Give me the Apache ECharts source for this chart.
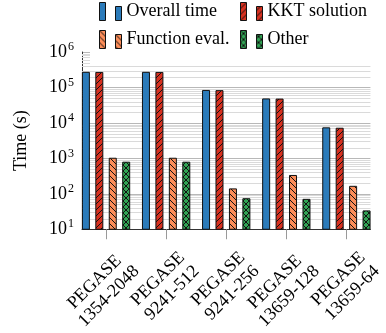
<!DOCTYPE html>
<html>
<head>
<meta charset="utf-8">
<script src="https://cdn.jsdelivr.net/npm/echarts@6/dist/echarts.min.js"></script>
<style>html,body{margin:0;padding:0;background:#fff}#c{width:386px;height:333px}</style>
</head>
<body>
<div id="c"></div>
<script>
// ---- data ----
const categories = ['PEGASE\n1354-2048', 'PEGASE\n9241-512', 'PEGASE\n9241-256', 'PEGASE\n13659-128', 'PEGASE\n13659-64'];
const overallTime = [2.76e5, 2.76e5, 8.5e4, 4.9e4, 7.5e3];
const kktSolution = [2.74e5, 2.74e5, 8.4e4, 4.85e4, 7.3e3];
const functionEval = [1.04e3, 1.04e3, 142, 340, 168];
const otherTime = [805, 805, 75, 72, 34];
const seriesNames = ['Overall time', 'KKT solution', 'Function eval.', 'Other'];
const yMin = 10, yMax = 1e6;
const minorDecades = [10, 100, 1000, 10000, 100000];
const minorFactors = [2, 3, 4, 5, 6, 7, 8, 9];

// ---- hatch patterns ----
function makePattern(bg, kind) {
  const s = 6;
  const c = document.createElement('canvas');
  c.width = s; c.height = s;
  const g = c.getContext('2d');
  g.fillStyle = bg; g.fillRect(0, 0, s, s);
  g.strokeStyle = '#111'; g.lineWidth = 1;
  const line = (x1, y1, x2, y2) => { g.beginPath(); g.moveTo(x1, y1); g.lineTo(x2, y2); g.stroke(); };
  if (kind === '/' || kind === 'x') {
    for (const o of [-s, 0, s]) line(o, s, o + s, 0);
  }
  if (kind === '\\' || kind === 'x') {
    for (const o of [-s, 0, s]) line(o, 0, o + s, s);
  }
  return { image: c, repeat: 'repeat' };
}
const colBlue = '#2b7bba';
const colRed = makePattern('#d7301f', '/');
const colOrange = makePattern('#fc8d59', '\\');
const colGreen = makePattern('#31a354', 'x');

const FONT = 'Liberation Serif';
const X_MIN = -0.4, X_MAX = 4.4;
const tickVals = categories.map((c, i) => i);
const chart = echarts.init(document.getElementById('c'), null, { renderer: 'canvas' });

function barSeries(name, values, color) {
  return {
    name, type: 'bar', z: 2, xAxisIndex: 0,
    data: values.map((v, i) => [i, v]),
    barWidth: 8, barGap: '68%',
    itemStyle: { color, borderColor: '#111', borderWidth: 1 }
  };
}

const minorVals = [];
minorDecades.forEach(d => minorFactors.forEach(f => minorVals.push(d * f)));

const legendCommon = {
  orient: 'vertical', top: 0, itemGap: 9, itemWidth: 22, itemHeight: 18,
  icon: 'path://M0,0h6v18h-6z M16,4h6v14h-6z',
  selectedMode: false, backgroundColor: '#fff',
  textStyle: { fontFamily: FONT, fontSize: 18, color: '#000' },
  itemStyle: { borderColor: '#111', borderWidth: 1 }
};

function labelAxis(values, showLine) {
  return {
    type: 'value', min: X_MIN, max: X_MAX, position: 'bottom', offset: 0,
    splitLine: { show: false },
    axisLine: { show: showLine, onZero: false, lineStyle: { color: '#333', width: 1 } },
    axisTick: { show: showLine, customValues: tickVals, length: 10, lineStyle: { color: '#999' } },
    axisLabel: {
      customValues: values,
      showMinLabel: true, showMaxLabel: true, hideOverlap: false,
      rotate: 45, margin: 9, verticalAlign: 'top', padding: [13, 0, 0, 0],
      fontFamily: FONT, fontSize: 18, color: '#000', lineHeight: 20,
      formatter: v => categories[Math.round(v)].split('\n').map(s => '{a|' + s + '}').join('\n'),
      rich: { a: { align: 'center', fontFamily: FONT, fontSize: 18, lineHeight: 20, color: '#000' } }
    }
  };
}

chart.setOption({
  animation: false,
  backgroundColor: '#fff',
  grid: { left: 82, right: 0, top: 52, bottom: 100, containLabel: false },
  legend: [
    Object.assign({}, legendCommon, { left: 90, padding: [2, 30, 17, 9], data: ['Overall time', 'Function eval.'] }),
    Object.assign({}, legendCommon, { left: 231, padding: [2, 40, 17, 9], data: ['KKT solution', 'Other'] })
  ],
  // labels split over two coincident axes so neighbouring rotated labels are not culled
  xAxis: [
    labelAxis(tickVals.filter(i => i % 2 === 0), true),
    labelAxis(tickVals.filter(i => i % 2 === 1), false)
  ],
  yAxis: {
    type: 'log', logBase: 10, min: yMin, max: yMax,
    name: 'Time (s)', nameLocation: 'middle', nameGap: 52,
    nameTextStyle: { fontFamily: FONT, fontSize: 18, color: '#000' },
    axisLine: { show: true, onZero: false, lineStyle: { color: '#333', width: 1 } },
    axisTick: { show: false },
    splitLine: { show: true, lineStyle: { color: '#b8b8b8', width: 1 } },
    axisLabel: {
      margin: 8, color: '#000',
      formatter: v => '{b|10}{s|' + Math.round(Math.log10(v)) + '}',
      rich: {
        b: { fontFamily: FONT, fontSize: 18, lineHeight: 22, color: '#000' },
        s: { fontFamily: FONT, fontSize: 12, verticalAlign: 'top', lineHeight: 14, padding: [0, 0, 0, 1], color: '#000' }
      }
    }
  },
  series: [
    {
      type: 'custom', name: 'minorGrid', silent: true, z: 1, clip: true, xAxisIndex: 0,
      data: minorVals.map(v => [X_MIN, v]), encode: { x: 0, y: 1 },
      renderItem: (params, api) => {
        const y = Math.round(api.coord([X_MIN, api.value(1)])[1]) + 0.5;
        const cs = params.coordSys;
        return { type: 'line', shape: { x1: cs.x, y1: y, x2: cs.x + cs.width, y2: y }, style: { stroke: '#dadada', lineWidth: 1 } };
      }
    },
    barSeries(seriesNames[0], overallTime, colBlue),
    barSeries(seriesNames[1], kktSolution, colRed),
    barSeries(seriesNames[2], functionEval, colOrange),
    barSeries(seriesNames[3], otherTime, colGreen)
  ]
});
</script>
</body>
</html>
